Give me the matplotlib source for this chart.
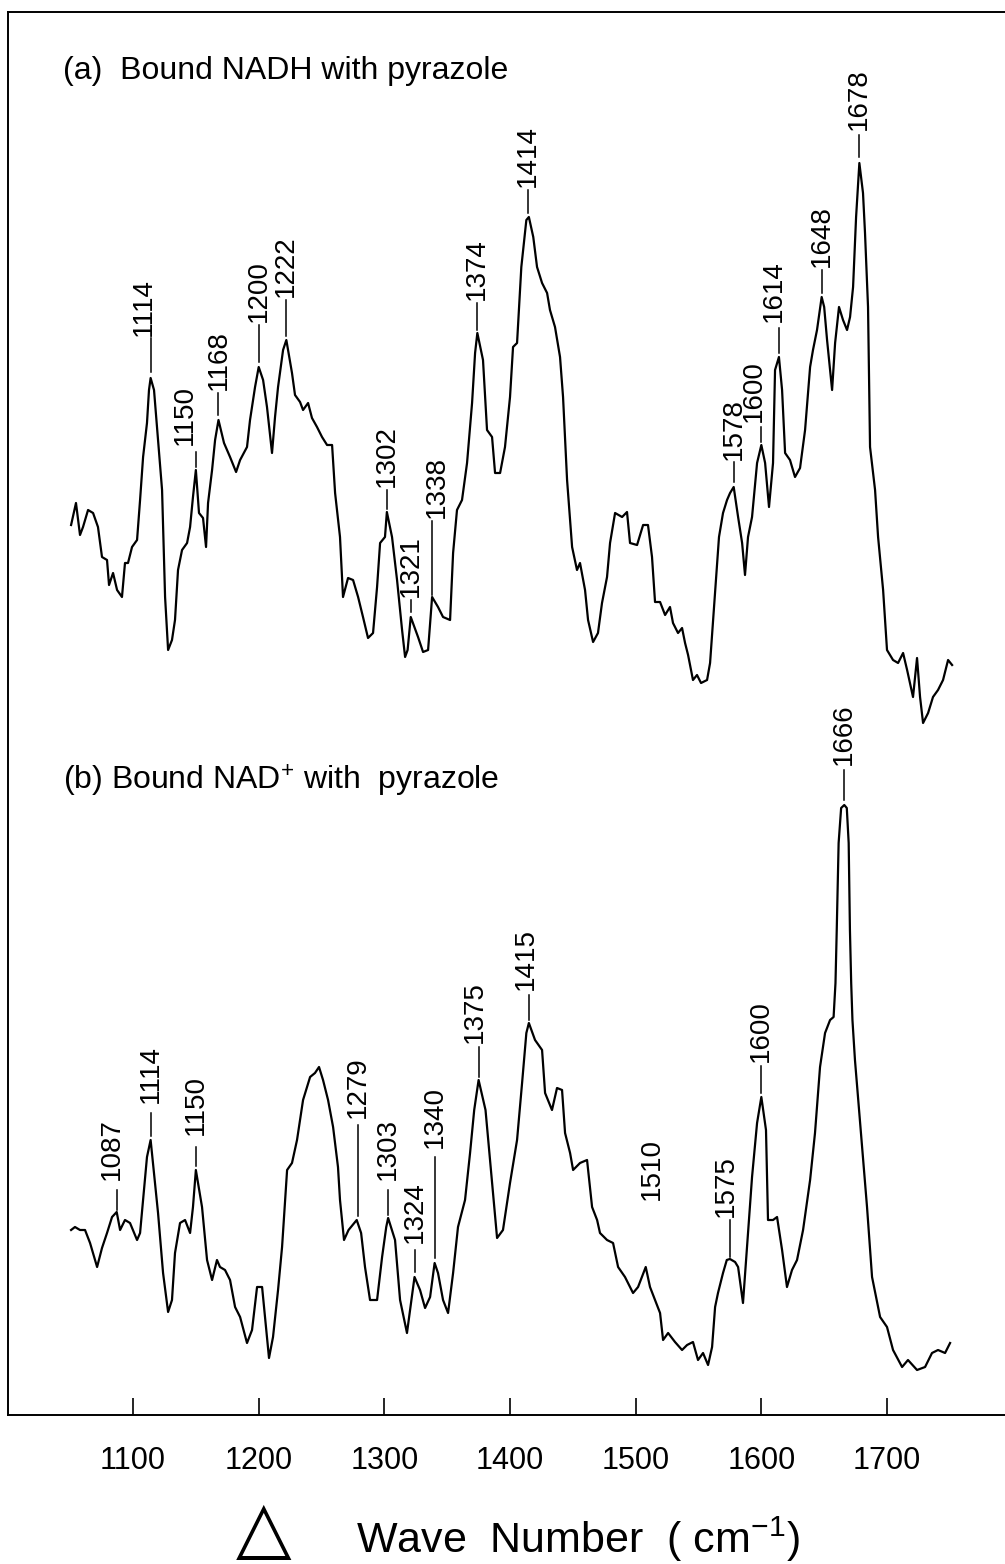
import matplotlib
matplotlib.use("Agg")
import matplotlib.pyplot as plt

plt.rcParams['font.family'] = ['Liberation Sans', 'DejaVu Sans']
plt.rcParams['mathtext.fontset'] = 'custom'
plt.rcParams['mathtext.rm'] = 'Liberation Sans'
plt.rcParams['mathtext.it'] = 'Liberation Sans:italic'

# (a) bound NADH with pyrazole, wavenumber (cm-1) and relative intensity
nadh_wn = [1050.7, 1054.6, 1057.8, 1060.2, 1064.2, 1068.2, 1072.1, 1075.3, 1079.3, 1080.9,
           1084.1, 1087.3, 1091.2, 1093.6, 1096.0, 1099.2, 1103.2, 1105.6, 1108.0, 1111.1,
           1112.7, 1114.0, 1116.7, 1119.1, 1123.1, 1125.5, 1127.9, 1131.0, 1133.4, 1135.8,
           1139.0, 1143.0, 1145.4, 1147.7, 1150.0, 1152.5, 1155.7, 1158.1, 1159.7, 1162.9,
           1165.3, 1168.0, 1172.4, 1177.2, 1182.0, 1185.2, 1190.7, 1193.1, 1197.1, 1200.0,
           1203.5, 1206.6, 1210.6, 1213.0, 1215.4, 1219.4, 1222.0, 1226.5, 1228.9, 1232.9,
           1235.3, 1239.3, 1242.4, 1246.4, 1250.4, 1254.4, 1258.4, 1260.8, 1264.7, 1267.1,
           1271.1, 1275.1, 1279.1, 1283.0, 1287.0, 1291.0, 1294.2, 1296.6, 1300.5, 1302.0,
           1306.1, 1310.1, 1314.1, 1316.5, 1318.5, 1321.0, 1326.8, 1330.8, 1334.8, 1338.0,
           1342.7, 1346.7, 1352.3, 1354.7, 1357.8, 1361.8, 1365.8, 1369.8, 1372.2, 1374.0,
           1378.5, 1381.7, 1385.7, 1388.1, 1392.1, 1396.0, 1400.0, 1402.4, 1405.6, 1409.0,
           1411.5, 1413.0, 1415.0, 1418.5, 1421.5, 1425.5, 1429.5, 1431.8, 1435.8, 1439.8,
           1442.2, 1445.4, 1449.4, 1453.3, 1455.7, 1459.7, 1462.1, 1466.1, 1470.0, 1473.2,
           1477.2, 1479.6, 1483.6, 1489.2, 1493.1, 1495.5, 1501.1, 1505.9, 1509.8, 1513.0,
           1515.4, 1519.4, 1523.4, 1527.3, 1529.7, 1533.7, 1536.9, 1539.3, 1541.7, 1545.6,
           1548.8, 1552.0, 1556.8, 1559.2, 1561.6, 1564.7, 1566.3, 1569.5, 1572.7, 1575.1,
           1578.0, 1581.5, 1584.7, 1587.0, 1589.4, 1592.6, 1596.6, 1600.0, 1603.0, 1606.1,
           1609.3, 1610.9, 1614.0, 1616.5, 1618.9, 1622.8, 1626.8, 1630.8, 1634.8, 1638.8,
           1641.1, 1644.3, 1648.0, 1650.0, 1652.3, 1656.3, 1658.7, 1661.8, 1665.0, 1668.2,
           1670.6, 1673.0, 1675.4, 1678.0, 1680.9, 1682.5, 1684.9, 1685.7, 1686.5, 1690.5,
           1692.9, 1696.9, 1700.0, 1704.8, 1708.8, 1712.8, 1716.0, 1720.7, 1723.9, 1726.3,
           1728.7, 1732.7, 1736.6, 1740.6, 1744.6, 1748.6, 1751.8]
nadh_int = [2.40, 2.62, 2.30, 2.38, 2.55, 2.52, 2.38, 2.08, 2.05, 1.80,
            1.92, 1.75, 1.68, 2.02, 2.02, 2.18, 2.25, 2.65, 3.08, 3.42,
            3.75, 3.87, 3.75, 3.38, 2.75, 1.68, 1.15, 1.25, 1.45, 1.95,
            2.15, 2.22, 2.38, 2.68, 2.95, 2.52, 2.47, 2.18, 2.62, 2.95,
            3.25, 3.45, 3.22, 3.08, 2.93, 3.05, 3.18, 3.45, 3.78, 3.98,
            3.85, 3.58, 3.12, 3.48, 3.78, 4.15, 4.25, 3.92, 3.70, 3.63,
            3.55, 3.62, 3.47, 3.38, 3.28, 3.20, 3.20, 2.72, 2.28, 1.68,
            1.87, 1.85, 1.68, 1.48, 1.27, 1.32, 1.78, 2.22, 2.28, 2.53,
            2.28, 1.85, 1.35, 1.08, 1.15, 1.48, 1.28, 1.13, 1.15, 1.68,
            1.58, 1.48, 1.45, 2.12, 2.55, 2.65, 3.02, 3.62, 4.12, 4.32,
            4.05, 3.35, 3.28, 2.92, 2.92, 3.18, 3.68, 4.18, 4.22, 4.98,
            5.27, 5.45, 5.48, 5.28, 4.98, 4.82, 4.72, 4.55, 4.38, 4.08,
            3.68, 2.85, 2.18, 1.95, 2.02, 1.75, 1.45, 1.23, 1.32, 1.62,
            1.88, 2.22, 2.52, 2.48, 2.53, 2.22, 2.20, 2.40, 2.40, 2.08,
            1.63, 1.63, 1.50, 1.58, 1.42, 1.32, 1.37, 1.22, 1.10, 0.85,
            0.90, 0.82, 0.85, 1.02, 1.45, 2.02, 2.28, 2.52, 2.65, 2.72,
            2.78, 2.48, 2.22, 1.90, 2.28, 2.48, 3.02, 3.20, 3.02, 2.58,
            3.02, 3.95, 4.08, 3.75, 3.12, 3.05, 2.88, 2.97, 3.35, 3.98,
            4.15, 4.35, 4.68, 4.58, 4.25, 3.75, 4.22, 4.58, 4.45, 4.35,
            4.48, 4.78, 5.48, 6.02, 5.72, 5.32, 4.58, 3.88, 3.18, 2.75,
            2.28, 1.75, 1.15, 1.05, 1.02, 1.12, 0.95, 0.68, 1.07, 0.68,
            0.42, 0.52, 0.68, 0.75, 0.85, 1.05, 1.00]

# (b) bound NAD+ with pyrazole
nad_wn = [1050.7, 1053.8, 1057.8, 1061.8, 1065.8, 1071.4, 1075.3, 1079.3, 1083.3, 1087.0,
          1089.7, 1093.6, 1097.6, 1103.2, 1105.6, 1108.0, 1111.1, 1114.0, 1116.7, 1119.9,
          1123.9, 1127.9, 1131.0, 1133.4, 1137.4, 1141.4, 1145.4, 1147.7, 1150.0, 1154.9,
          1158.9, 1162.9, 1166.8, 1169.2, 1173.2, 1177.2, 1181.2, 1185.2, 1190.7, 1194.7,
          1198.7, 1202.7, 1205.0, 1208.2, 1211.4, 1215.4, 1218.6, 1222.6, 1226.5, 1230.5,
          1235.3, 1240.9, 1244.8, 1248.0, 1251.2, 1255.2, 1259.2, 1263.1, 1264.7, 1267.9,
          1271.5, 1278.0, 1281.5, 1284.6, 1288.6, 1294.2, 1298.2, 1301.5, 1303.0, 1308.5,
          1312.5, 1318.0, 1321.5, 1324.0, 1328.4, 1332.4, 1336.4, 1340.0, 1342.7, 1346.7,
          1350.7, 1354.7, 1358.6, 1364.2, 1368.2, 1371.5, 1375.0, 1380.5, 1385.7, 1389.7,
          1394.4, 1400.0, 1405.6, 1409.6, 1413.0, 1415.0, 1419.9, 1425.5, 1427.9, 1433.4,
          1437.4, 1441.4, 1443.8, 1447.8, 1450.2, 1455.7, 1461.3, 1465.3, 1469.3, 1471.6,
          1477.2, 1482.0, 1486.0, 1491.5, 1497.9, 1501.9, 1508.0, 1511.4, 1515.4, 1519.4,
          1521.8, 1525.8, 1531.3, 1536.9, 1540.9, 1545.6, 1549.6, 1553.6, 1557.6, 1560.8,
          1563.2, 1565.5, 1569.5, 1572.5, 1575.0, 1579.1, 1581.5, 1585.4, 1588.6, 1592.6,
          1596.6, 1600.0, 1603.7, 1605.3, 1609.3, 1612.5, 1616.5, 1620.4, 1624.4, 1628.4,
          1633.2, 1638.8, 1642.7, 1646.7, 1650.7, 1654.7, 1657.5, 1659.0, 1660.0, 1661.5,
          1663.5, 1666.0, 1668.0, 1669.5, 1670.5, 1671.5, 1672.5, 1674.5, 1684.1, 1688.1,
          1694.5, 1700.0, 1704.8, 1712.0, 1716.7, 1723.9, 1730.3, 1735.8, 1740.6, 1746.2,
          1750.2]
nad_int = [1.85, 1.88, 1.85, 1.85, 1.72, 1.48, 1.67, 1.82, 1.98, 2.03,
           1.85, 1.95, 1.92, 1.75, 1.82, 2.15, 2.58, 2.75, 2.42, 2.02,
           1.42, 1.03, 1.15, 1.62, 1.92, 1.95, 1.82, 2.08, 2.45, 2.08,
           1.55, 1.35, 1.55, 1.48, 1.45, 1.35, 1.08, 0.98, 0.72, 0.85,
           1.28, 1.28, 0.98, 0.57, 0.78, 1.25, 1.68, 2.45, 2.52, 2.75,
           3.15, 3.38, 3.42, 3.48, 3.35, 3.15, 2.88, 2.48, 2.15, 1.75,
           1.85, 1.95, 1.82, 1.48, 1.15, 1.15, 1.58, 1.88, 1.97, 1.75,
           1.15, 0.82, 1.15, 1.38, 1.25, 1.07, 1.18, 1.52, 1.42, 1.15,
           1.02, 1.42, 1.88, 2.15, 2.62, 3.05, 3.35, 3.05, 2.32, 1.77,
           1.85, 2.32, 2.75, 3.32, 3.82, 3.92, 3.75, 3.65, 3.22, 3.05,
           3.27, 3.25, 2.82, 2.62, 2.45, 2.52, 2.55, 2.08, 1.95, 1.82,
           1.75, 1.72, 1.48, 1.38, 1.22, 1.28, 1.48, 1.28, 1.15, 1.02,
           0.75, 0.82, 0.73, 0.65, 0.70, 0.73, 0.55, 0.62, 0.50, 0.68,
           1.08, 1.22, 1.42, 1.55, 1.56, 1.53, 1.48, 1.12, 1.68, 2.38,
           2.92, 3.18, 2.85, 1.95, 1.95, 1.98, 1.65, 1.28, 1.45, 1.55,
           1.85, 2.35, 2.82, 3.48, 3.82, 3.95, 3.98, 4.32, 4.85, 5.72,
           6.07, 6.10, 6.07, 5.72, 4.85, 4.32, 3.95, 3.55, 2.08, 1.38,
           0.98, 0.88, 0.65, 0.48, 0.55, 0.45, 0.48, 0.62, 0.65, 0.62,
           0.72]

nadh_offset = 6.5
nad_offset = 0.0

# peak labels: value, text shift (cm-1), text bottom, line top, line bottom
nadh_labels = [(1114, -5, 10.79, 10.77, 10.43), (1150, -9, 9.70, 9.63, 9.48),
               (1168, 0, 10.25, 10.22, 10.00), (1200, 0, 10.93, 10.90, 10.53),
               (1222, 0, 11.18, 11.15, 10.79), (1302, 0, 9.28, 9.25, 9.06),
               (1321, 0, 8.18, 8.15, 8.03), (1338, 4, 8.97, 8.94, 8.20),
               (1374, 0, 11.15, 11.12, 10.85), (1414, 0, 12.28, 12.25, 12.02),
               (1578, 0, 9.55, 9.53, 9.33), (1600, -6, 9.93, 9.88, 9.73),
               (1614, -4, 10.93, 10.87, 10.62), (1648, 0, 11.48, 11.45, 11.22),
               (1678, 0, 12.85, 12.80, 12.58)]
nad_labels = [(1087, -4, 2.35, 2.25, 2.05), (1114, 0, 3.12, 3.02, 2.79),
              (1150, 0, 2.80, 2.68, 2.49), (1279, 0, 2.97, 2.90, 1.99),
              (1303, 0, 2.35, 2.25, 2.00), (1324, 0, 1.72, 1.65, 1.43),
              (1340, 0, 2.67, 2.58, 1.57), (1375, -3, 3.72, 3.68, 3.38),
              (1415, -2, 4.25, 4.20, 3.95), (1510, 3, 2.15, None, None),
              (1575, -3, 1.98, 1.95, 1.58), (1600, 0, 3.53, 3.49, 3.22),
              (1666, 0, 6.50, 6.45, 6.15)]

ticks = [1100, 1200, 1300, 1400, 1500, 1600, 1700]

fig = plt.figure(figsize=(10.05, 15.64), dpi=100)
ax = fig.add_axes([8 / 1005, 1 - 1415 / 1564, 997 / 1005, 1403 / 1564])

ax.plot(nadh_wn, [v + nadh_offset for v in nadh_int], color='black', lw=1.6)
ax.plot(nad_wn, [v + nad_offset for v in nad_int], color='black', lw=1.6)

for labels in (nadh_labels, nad_labels):
    for val, dx, ytext, ytop, ybot in labels:
        if ytop is not None:
            ax.plot([val, val], [ybot, ytop], color='black', lw=1.1)
        ax.text(val + dx, ytext, str(val), rotation=90, ha='center', va='bottom',
                fontsize=20)

ax.set_xlim(1000.5, 1793.9)
ax.set_ylim(0, 14.03)
ax.set_xticks(ticks)
ax.set_xticklabels([str(t) for t in ticks], fontsize=22)
ax.set_yticks([])
ax.tick_params(axis='x', direction='in', length=12, width=1.2, pad=22)
ax.spines['right'].set_visible(False)
for s in ('left', 'top', 'bottom'):
    ax.spines[s].set_linewidth(1.4)

fig.text(63 / 1005, 1 - 79 / 1564, '(a)  Bound NADH with pyrazole', fontsize=23,
         va='baseline')
fig.text(63 / 1005, 1 - 790 / 1564, '(b) Bound NAD$^{+}$ with  pyrazole', fontsize=23,
         va='baseline')

# delta sign in front of the axis title
fig.text(257 / 1005, 1 - 1533 / 1564, r'$\triangle$', fontsize=52,
         math_fontfamily='dejavusans', ha='center', va='center')
fig.text(356 / 1005, 1 - 1553 / 1564, 'Wave  Number  ( cm$^{-1}$)', fontsize=31,
         va='baseline')

fig.savefig('out.png', dpi=100)
